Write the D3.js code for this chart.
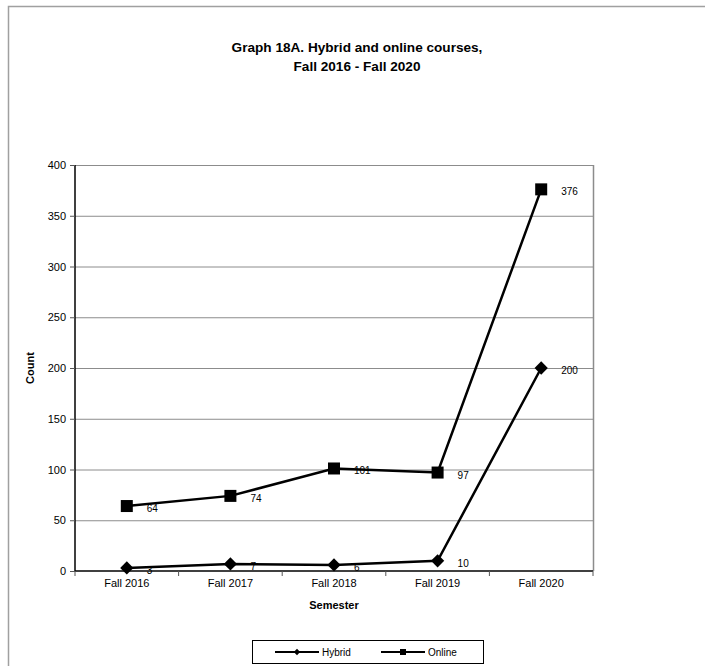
<!DOCTYPE html>
<html><head><meta charset="utf-8">
<script src="https://cdn.jsdelivr.net/npm/d3@7"></script>
<style>body{margin:0;background:#fff}svg{display:block;font-family:Arial,"Liberation Sans",sans-serif}</style>
</head><body>
<svg id="c" width="705" height="666"></svg>
<script>
const categories = ["Fall 2016","Fall 2017","Fall 2018","Fall 2019","Fall 2020"];
const hybrid = [3, 7, 6, 10, 200];
const online = [64, 74, 101, 97, 376];
const yTicks = [0,50,100,150,200,250,300,350,400];

const svg = d3.select("#c");
// outer frame
svg.append("path").attr("d","M8.5,666 V6.5 H705").attr("fill","none").attr("stroke","#a0a0a0").attr("stroke-width",1.5);

const L=75, R=593, T=165, B=571;
const x = d3.scaleBand().domain(categories).range([L,R]);
const y = d3.scaleLinear().domain([0,400]).range([B,T]);

// title
const title = svg.append("text").attr("x",357).attr("text-anchor","middle").attr("font-weight","bold").attr("font-size",13.6);
title.append("tspan").attr("x",357).attr("y",52).text("Graph 18A. Hybrid and online courses,");
title.append("tspan").attr("x",357).attr("y",71).text("Fall 2016 - Fall 2020");

// grid
svg.append("g").selectAll("line").data(yTicks.filter(d=>d>0)).join("line")
  .attr("x1",L).attr("x2",R).attr("y1",d=>y(d)+0.5).attr("y2",d=>y(d)+0.5)
  .attr("stroke","#8c8c8c").attr("stroke-width",1);
svg.append("line").attr("x1",R+0.5).attr("x2",R+0.5).attr("y1",T).attr("y2",B).attr("stroke","#8c8c8c").attr("stroke-width",1.5);

// y axis
const ya = svg.append("g").attr("transform",`translate(${L},0)`)
  .call(d3.axisLeft(y).tickValues(yTicks).tickSize(5).tickPadding(4));
ya.select(".domain").attr("stroke","#000").attr("stroke-width",1.5).attr("d",`M0,${T}V${B}`);
ya.selectAll(".tick line").attr("stroke","#555");
ya.selectAll("text").attr("font-size",11).attr("font-family","Arial, Liberation Sans, sans-serif").attr("fill","#000");

// x axis
const xa = svg.append("g").attr("transform",`translate(0,${B})`)
  .call(d3.axisBottom(x).tickSize(0).tickPadding(8));
xa.select(".domain").attr("stroke","#000").attr("stroke-width",1.5).attr("d",`M${L},0H${R}`);
xa.selectAll("text").attr("font-size",11).attr("font-family","Arial, Liberation Sans, sans-serif").attr("fill","#000");
svg.append("g").selectAll("line").data(d3.range(categories.length+1)).join("line")
  .attr("x1",i=>L+i*x.step()).attr("x2",i=>L+i*x.step()).attr("y1",B).attr("y2",B+5)
  .attr("stroke","#555");

// axis titles
svg.append("text").attr("transform",`translate(34,${(T+B)/2}) rotate(-90)`).attr("text-anchor","middle")
  .attr("font-weight","bold").attr("font-size",11).text("Count");
svg.append("text").attr("x",(L+R)/2).attr("y",609).attr("text-anchor","middle")
  .attr("font-weight","bold").attr("font-size",11).text("Semester");

const cx = d => x(d)+x.bandwidth()/2;
const line = d3.line().x(d=>cx(d.c)).y(d=>y(d.v));
const hd = categories.map((c,i)=>({c,v:hybrid[i]}));
const od = categories.map((c,i)=>({c,v:online[i]}));

svg.append("path").attr("d",line(hd)).attr("fill","none").attr("stroke","#000").attr("stroke-width",2.5);
svg.append("path").attr("d",line(od)).attr("fill","none").attr("stroke","#000").attr("stroke-width",2.5);

const diamond = d3.symbol().type(d3.symbolSquare).size(88);
svg.append("g").selectAll("path").data(hd).join("path")
  .attr("d",diamond).attr("transform",d=>`translate(${cx(d.c)},${y(d.v)}) rotate(45)`).attr("fill","#000");
svg.append("g").selectAll("rect").data(od).join("rect")
  .attr("x",d=>cx(d.c)-6).attr("y",d=>y(d.v)-6).attr("width",12).attr("height",12).attr("fill","#000");

// data labels
const lab = (data) => svg.append("g").selectAll("text").data(data).join("text")
  .attr("x",d=>cx(d.c)+20).attr("y",d=>y(d.v)+6).attr("font-size",10).attr("fill","#000").text(d=>d.v);
lab(hd); lab(od);

// legend
svg.append("rect").attr("x",252.5).attr("y",640.5).attr("width",231).attr("height",23).attr("fill","#fff").attr("stroke","#000").attr("stroke-width",1);
const lg = [{name:"Hybrid",x0:275,type:"d"},{name:"Online",x0:381,type:"s"}];
lg.forEach(l=>{
  svg.append("line").attr("x1",l.x0).attr("x2",l.x0+44).attr("y1",652).attr("y2",652).attr("stroke","#000").attr("stroke-width",2);
  if(l.type==="d") svg.append("path").attr("d",d3.symbol().type(d3.symbolSquare).size(20)).attr("transform",`translate(${l.x0+22},652) rotate(45)`).attr("fill","#000");
  else svg.append("rect").attr("x",l.x0+19).attr("y",649).attr("width",6).attr("height",6).attr("fill","#000");
  svg.append("text").attr("x",l.x0+47).attr("y",655.5).attr("font-size",10).text(l.name);
});
</script>
</body></html>
